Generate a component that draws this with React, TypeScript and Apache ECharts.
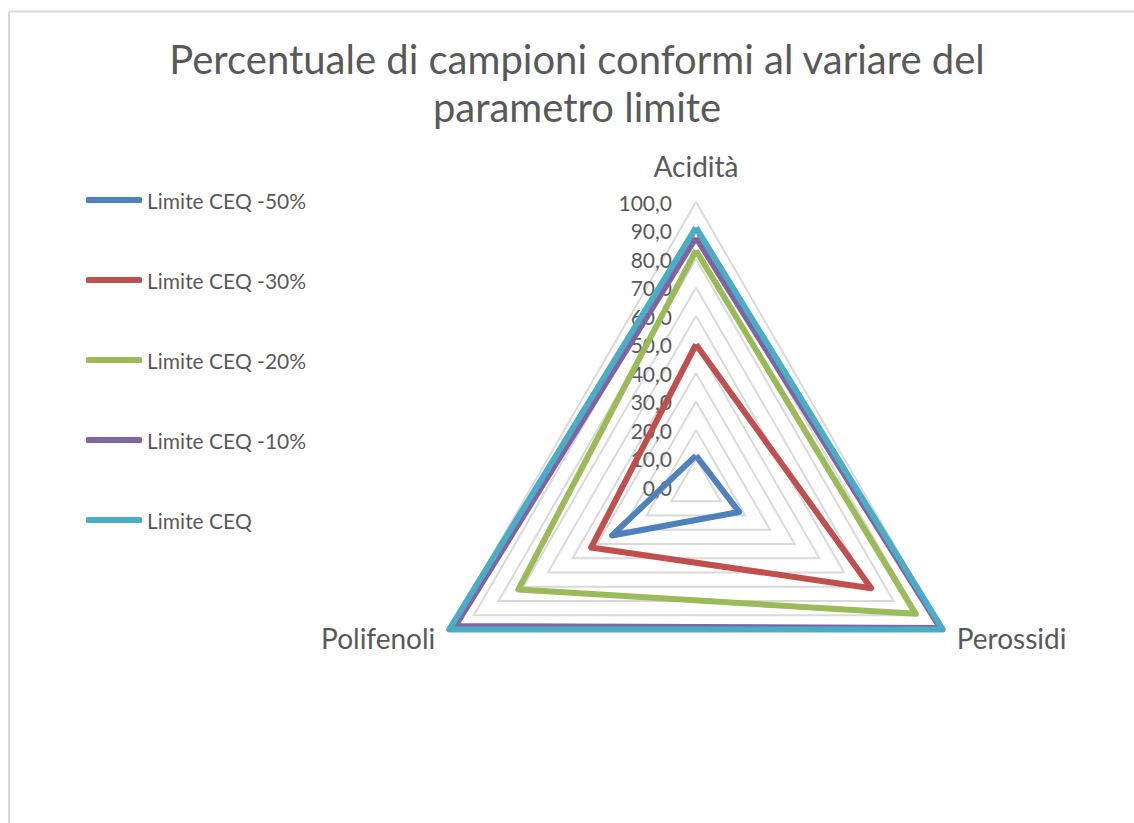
import React, { useEffect, useRef } from "react";
import * as echarts from "echarts";

const TITLE = "Percentuale di campioni conformi al variare del\nparametro limite";
const categories = ["Acidità", "Perossidi", "Polifenoli"];
const seriesNames = ["Limite CEQ -50%", "Limite CEQ -30%", "Limite CEQ -20%", "Limite CEQ -10%", "Limite CEQ"];
const valuesM50 = [11, 17.5, 34];
const valuesM30 = [50, 71, 42.5];
const valuesM20 = [83, 89, 72];
const valuesM10 = [87.5, 99, 97.5];
const valuesCEQ = [91, 100, 100];
const allValues = [valuesM50, valuesM30, valuesM20, valuesM10, valuesCEQ];
const colors = ["#4F81BD", "#C0504D", "#9BBB59", "#8064A2", "#4BACC6"];
const axisMin = 0;
const axisMax = 100;
const axisStep = 10;

// Excel draws clockwise; ECharts radar goes counter-clockwise, so reverse the non-first categories.
const order = [0, 2, 1];

const FONT = "Lato, 'Open Sans', sans-serif";
const GRAY = "#595959";

export default function App() {
  const ref = useRef<HTMLDivElement>(null);
  useEffect(() => {
    if (!ref.current) return;
    const chart = echarts.init(ref.current, null, { renderer: "svg" });
    const cx = 696;
    const cy = 487;
    const r = 285;
    chart.setOption({
      animation: false,
      backgroundColor: "#ffffff",
      textStyle: { fontFamily: FONT },
      title: {
        text: TITLE,
        left: 577,
        top: 35,
        padding: 0,
        textAlign: "center",
        textStyle: { fontFamily: FONT, fontSize: 40, fontWeight: "normal", color: GRAY, lineHeight: 48 },
      },
      legend: {
        orient: "vertical",
        left: 86,
        top: 189,
        padding: 0,
        itemWidth: 56,
        itemHeight: 6,
        itemGap: 58,
        icon: "roundRect",
        data: seriesNames,
        textStyle: { fontFamily: FONT, fontSize: 21, color: GRAY, lineHeight: 22 },
      },
      radar: {
        center: [cx, cy],
        radius: r,
        startAngle: 90,
        shape: "polygon",
        splitNumber: (axisMax - axisMin) / axisStep,
        indicator: order.map((i) => ({ name: categories[i], min: axisMin, max: axisMax })),
        axisName: {
          color: GRAY,
          fontSize: 28,
          fontFamily: FONT,
          formatter: (name: string) => (name === categories[0] ? `{top|${name}}` : name),
          rich: {
            top: { color: GRAY, fontSize: 28, fontFamily: FONT, padding: [0, 0, 6, 0] },
          },
        },
        nameGap: 16,
        axisLine: { show: false },
        axisTick: { show: false },
        axisLabel: { show: false },
        splitArea: { show: false },
        splitLine: { lineStyle: { color: "#d9d9d9", width: 2 } },
      },
      grid: { left: cx - 22, width: 1, top: cy - r, height: r },
      xAxis: { type: "value", show: false },
      yAxis: {
        type: "value",
        min: axisMin,
        max: axisMax,
        interval: axisStep,
        axisLine: { show: false },
        axisTick: { show: false },
        splitLine: { show: false },
        axisLabel: {
          margin: 2,
          fontSize: 21,
          fontFamily: FONT,
          color: GRAY,
          formatter: (v: number) => v.toFixed(1).replace(".", ","),
        },
      },
      series: [
        {
          type: "radar",
          symbol: "none",
          data: allValues.map((vals, k) => ({
            name: seriesNames[k],
            value: order.map((i) => vals[i]),
            lineStyle: { color: colors[k], width: 6 },
            itemStyle: { color: colors[k] },
          })),
        },
      ],
      graphic: [
        { type: "line", shape: { x1: 9, y1: 11.5, x2: 1134, y2: 11.5 }, style: { stroke: "#d9d9d9", lineWidth: 2 } },
        { type: "line", shape: { x1: 9, y1: 11.5, x2: 9, y2: 823 }, style: { stroke: "#d9d9d9", lineWidth: 2 } },
      ],
    });
    return () => chart.dispose();
  }, []);
  return (
    <div
      ref={ref}
      style={{ position: "fixed", left: 0, top: 0, width: 1134, height: 823, background: "#fff" }}
    />
  );
}
